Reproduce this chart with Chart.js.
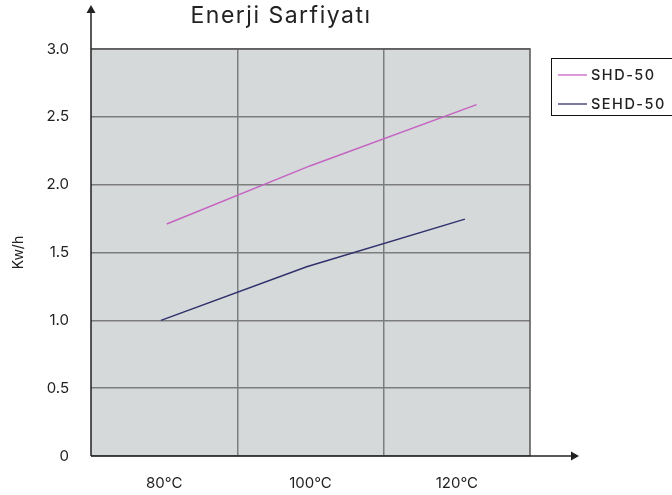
<!DOCTYPE html>
<html>
<head>
<meta charset="utf-8">
<script src="https://cdn.jsdelivr.net/npm/chart.js@4.4.1/dist/chart.umd.min.js"></script>
<style>
html,body{margin:0;padding:0;background:#fff;}
#wrap{width:672px;height:495px;position:relative;}
</style>
</head>
<body>
<div id="wrap"><canvas id="c" width="672" height="495"></canvas></div>
<script>
const chartTitle = "Enerji Sarfiyatı";
const yTitle = "Kw/h";
const seriesNames = ["SHD-50", "SEHD-50"];
const tempTicks = [80, 100, 120];
const tempLabels = ["80°C", "100°C", "120°C"];
const yTickValues = [0, 0.5, 1.0, 1.5, 2.0, 2.5, 3.0];
const shdX = [80.35, 100.0, 122.7];
const shdY = [1.71, 2.14, 2.59];
const sehdX = [79.57, 99.48, 121.1];
const sehdY = [1.0, 1.395, 1.746];

const FONT = "Inter, 'Open Sans', sans-serif";
const colors = ["#c464c2", "#30306c"];

const toPts = (xs, ys) => xs.map((x, i) => ({x: x, y: ys[i]}));

const bgPlugin = {
  id: 'bg',
  beforeDraw(chart) {
    const {ctx, chartArea: a} = chart;
    ctx.save();
    ctx.fillStyle = '#d6d9da';
    ctx.fillRect(a.left, a.top, a.right - a.left, a.bottom - a.top);
    ctx.restore();
  },
  afterDatasetsDraw(chart) {
    const {ctx, chartArea: a} = chart;
    ctx.save();
    ctx.strokeStyle = '#555';
    ctx.lineWidth = 1.5;
    ctx.beginPath();
    ctx.moveTo(a.left, a.top);
    ctx.lineTo(a.right, a.top);
    ctx.lineTo(a.right, a.bottom);
    ctx.stroke();
    ctx.strokeStyle = '#222';
    ctx.fillStyle = '#222';
    ctx.lineWidth = 1.5;
    ctx.beginPath();
    ctx.moveTo(a.left, a.bottom);
    ctx.lineTo(a.left, 10);
    ctx.moveTo(a.left, a.bottom);
    ctx.lineTo(574, a.bottom);
    ctx.stroke();
    ctx.beginPath();
    ctx.moveTo(a.left, 5);
    ctx.lineTo(a.left - 4.5, 13);
    ctx.lineTo(a.left + 4.5, 13);
    ctx.closePath();
    ctx.fill();
    ctx.beginPath();
    ctx.moveTo(579, a.bottom);
    ctx.lineTo(571, a.bottom - 4.5);
    ctx.lineTo(571, a.bottom + 4.5);
    ctx.closePath();
    ctx.fill();
    ctx.fillStyle = '#222';
    ctx.font = "400 23px " + FONT;
    try { ctx.letterSpacing = '1.5px'; } catch(e) {}
    ctx.textAlign = 'center';
    ctx.textBaseline = 'alphabetic';
    ctx.fillText(chartTitle, 281, 23);
    try { ctx.letterSpacing = '1.5px'; } catch(e) {}
    ctx.strokeStyle = '#111';
    ctx.lineWidth = 1;
    ctx.strokeRect(551.5, 58.5, 130, 57);
    ctx.font = "500 14.5px " + FONT;
    ctx.textAlign = 'left';
    ctx.textBaseline = 'middle';
    const ys = [75, 104];
    chart.data.datasets.forEach((ds, i) => {
      ctx.strokeStyle = ds.borderColor;
      ctx.lineWidth = 1.3;
      ctx.beginPath();
      ctx.moveTo(558, ys[i]);
      ctx.lineTo(587, ys[i]);
      ctx.stroke();
      ctx.fillStyle = '#222';
      ctx.fillText(ds.label, 591, ys[i] + 1);
    });
    ctx.restore();
  }
};

new Chart(document.getElementById('c'), {
  type: 'line',
  data: {
    datasets: [
      {label: seriesNames[0], data: toPts(shdX, shdY), borderColor: colors[0], borderWidth: 1.5, pointRadius: 0, tension: 0, fill: false},
      {label: seriesNames[1], data: toPts(sehdX, sehdY), borderColor: colors[1], borderWidth: 1.5, pointRadius: 0, tension: 0, fill: false}
    ]
  },
  options: {
    responsive: false,
    animation: false,
    devicePixelRatio: 1,
    layout: {padding: {top: 49, right: 142, left: 0, bottom: 0}},
    plugins: {legend: {display: false}, title: {display: false}, tooltip: {enabled: false}},
    scales: {
      x: {
        type: 'linear', min: 70, max: 130,
        afterFit(s) { s.height = 39; },
        afterBuildTicks(s) { s.ticks = [70, 80, 90, 100, 110, 120, 130].map(v => ({value: v})); },
        border: {display: false},
        grid: {
          drawTicks: false,
          lineWidth: 1.5,
          color: ctx => (ctx.tick && (ctx.tick.value === 90 || ctx.tick.value === 110)) ? '#7d7d7d' : 'rgba(0,0,0,0)'
        },
        ticks: {
          autoSkip: false, maxRotation: 0, padding: 18, color: '#222',
          font: {family: FONT, size: 15},
          callback: v => { const i = tempTicks.indexOf(v); return i >= 0 ? tempLabels[i] : ''; }
        }
      },
      y: {
        min: 0, max: 3,
        afterFit(s) { s.width = 91; },
        afterBuildTicks(s) { s.ticks = yTickValues.map(v => ({value: v})); },
        border: {display: false},
        grid: {drawTicks: false, lineWidth: 1.5, color: '#7d7d7d'},
        ticks: {
          padding: 22, color: '#222',
          font: {family: FONT, size: 15},
          callback: v => v === 0 ? '0' : v.toFixed(1)
        },
        title: {display: true, text: yTitle, color: '#222', font: {family: FONT, size: 14}, padding: {top: 10, bottom: 0}}
      }
    }
  },
  plugins: [bgPlugin]
});
</script>
</body>
</html>
